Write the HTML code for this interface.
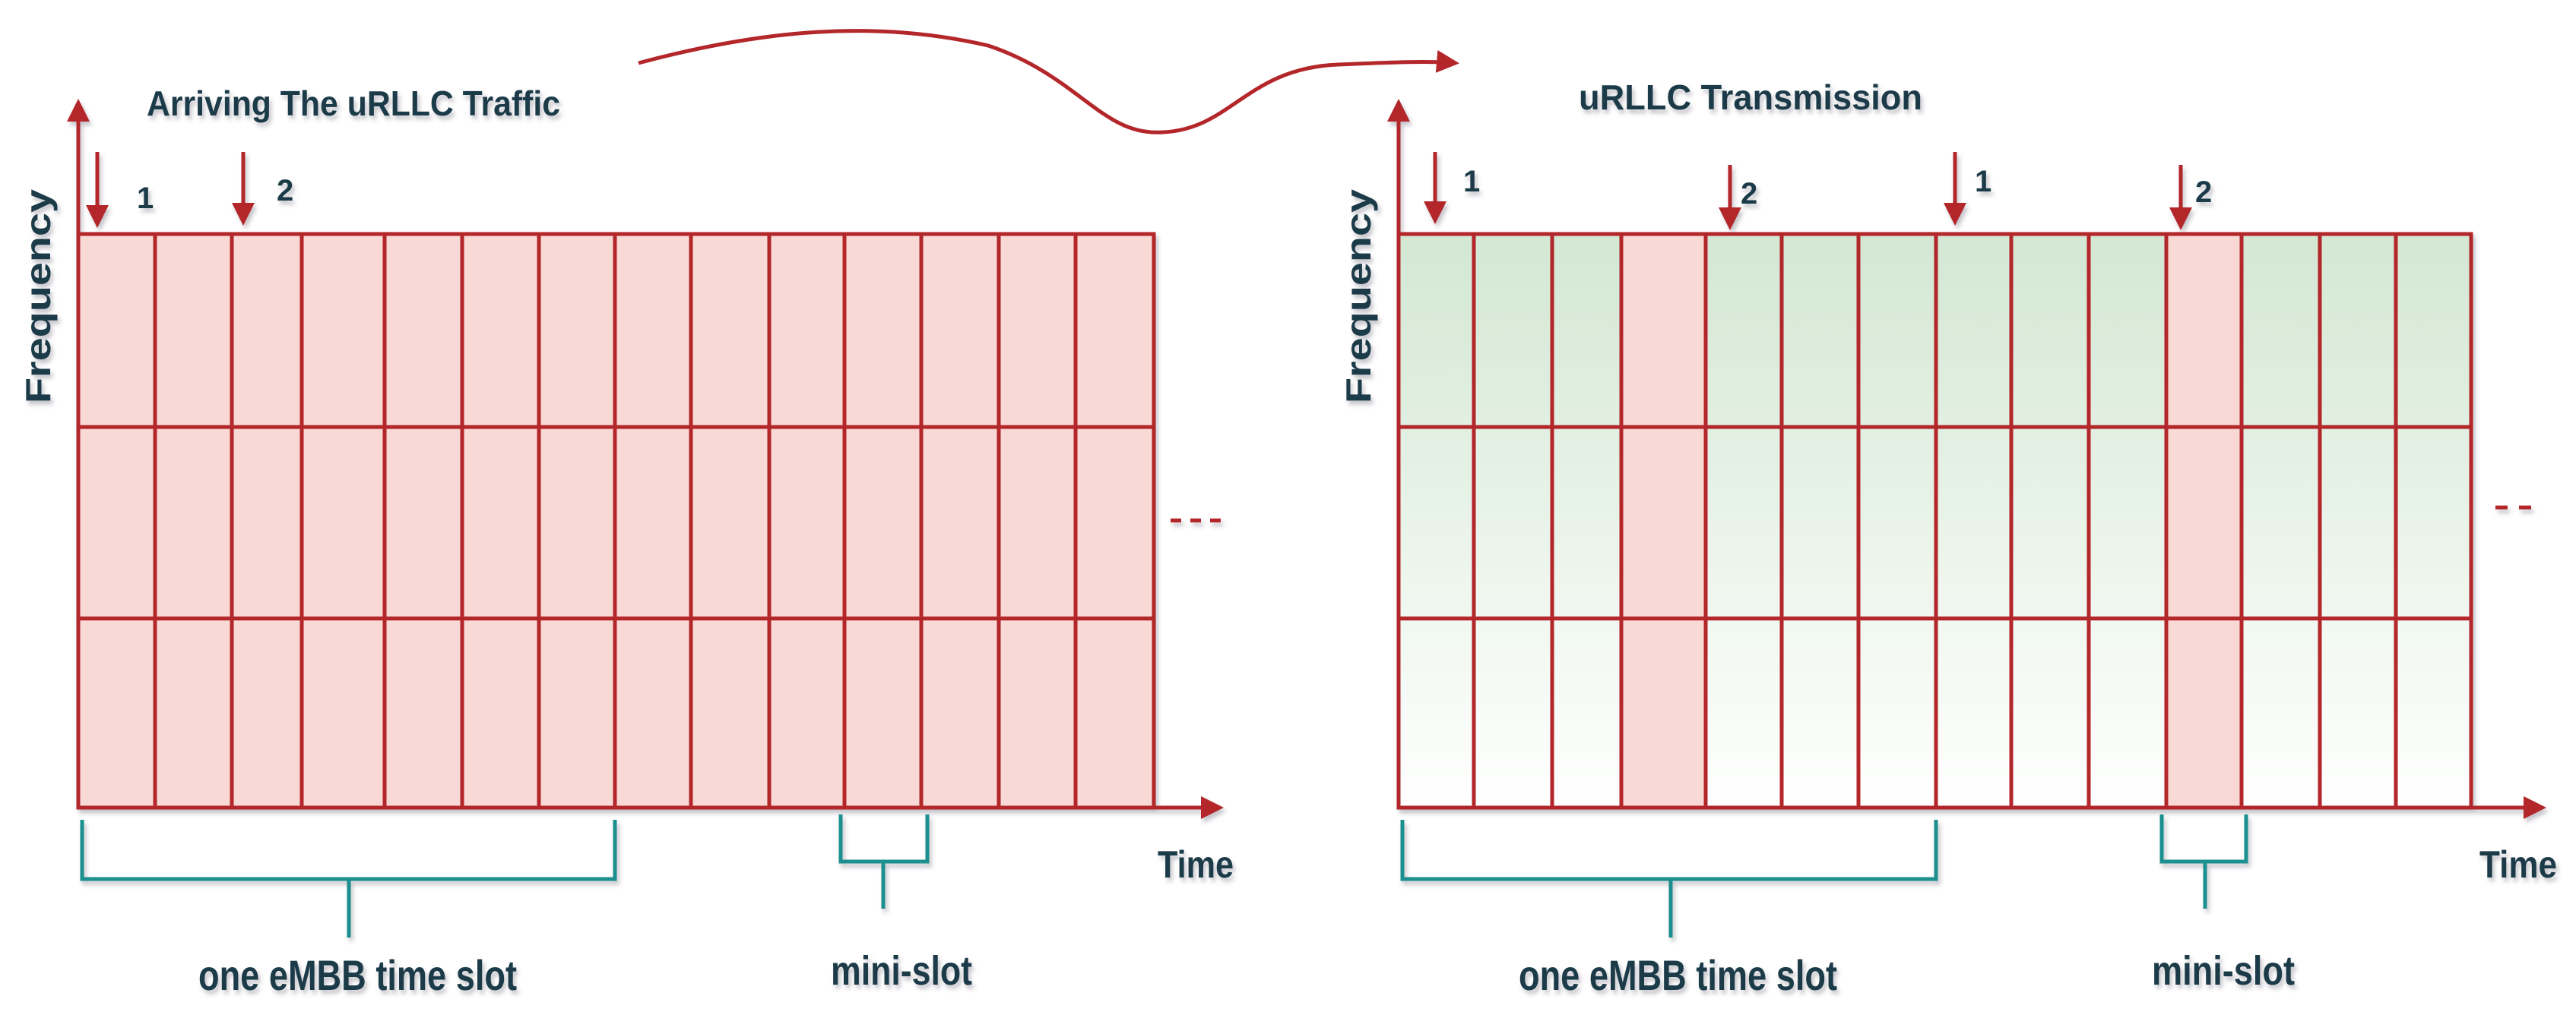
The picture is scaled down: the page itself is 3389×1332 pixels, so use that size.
<!DOCTYPE html>
<html><head><meta charset="utf-8"><style>
html,body{margin:0;padding:0;background:#fff}
svg{display:block}
text{font-family:"Liberation Sans Narrow","Liberation Sans",sans-serif;font-weight:bold;fill:#1d3a48}
</style></head><body>
<svg width="3389" height="1332" viewBox="0 0 3389 1332" xmlns="http://www.w3.org/2000/svg">
<defs>
<linearGradient id="g" x1="0" y1="0" x2="0" y2="1">
<stop offset="0" stop-color="#d3e7d3"/><stop offset="1" stop-color="#ffffff"/>
</linearGradient>
<filter id="sh" x="-5%" y="-20%" width="110%" height="150%"><feDropShadow dx="3" dy="5" stdDeviation="3" flood-color="#556" flood-opacity="0.35"/></filter>
<marker id="ah" markerWidth="6" markerHeight="6" refX="5" refY="3" orient="auto" markerUnits="strokeWidth"><path d="M0,0 L6,3 L0,6 Z" fill="#b3262a"/></marker>
</defs>

<!-- curve -->
<path d="M840,83 C1000,40 1150,25 1300,60 C1420,100 1450,180 1530,174 C1620,170 1640,90 1760,85 C1830,82 1880,80 1915,83" fill="none" stroke="#b3262a" stroke-width="5" marker-end="url(#ah)"/>

<!-- LEFT -->
<g filter="url(#sh)">
<rect x="103" y="308" width="1415" height="755" fill="#f9d9d5"/>
<g stroke="#b3262a" stroke-width="5" fill="none">
<rect x="103" y="308" width="1415" height="755"/>
<line x1="103" y1="562" x2="1518" y2="562"/>
<line x1="103" y1="814" x2="1518" y2="814"/>
<path d="M204,308V1063M305,308V1063M397,308V1063M506,308V1063M608,308V1063M709,308V1063M809,308V1063M909,308V1063M1012,308V1063M1111,308V1063M1212,308V1063M1314,308V1063M1415,308V1063"/>
</g>
<line x1="103" y1="1063" x2="103" y2="135" stroke="#b3262a" stroke-width="5" marker-end="url(#ah)"/>
<line x1="103" y1="1063" x2="1605" y2="1063" stroke="#b3262a" stroke-width="5" marker-end="url(#ah)"/>
<line x1="128" y1="200" x2="128" y2="295" stroke="#b3262a" stroke-width="5" marker-end="url(#ah)"/>
<line x1="320" y1="200" x2="320" y2="292" stroke="#b3262a" stroke-width="5" marker-end="url(#ah)"/>
<path d="M1540,685h14M1566,685h14M1592,685h14" stroke="#b3262a" stroke-width="5"/>
<g stroke="#1a8f8f" stroke-width="5" fill="none">
<path d="M108,1079V1157H809V1079M459,1157V1234"/>
<path d="M1106,1072V1134H1220V1072M1162,1134V1196"/>
</g>
</g>
<g filter="url(#sh)">
<text x="193" y="152" font-size="46" textLength="544" lengthAdjust="spacingAndGlyphs">Arriving The uRLLC Traffic</text>
<text x="180" y="274" font-size="40">1</text>
<text x="364" y="264" font-size="40">2</text>
<text transform="translate(66,390) rotate(-90)" text-anchor="middle" font-size="46" style="font-family:'Liberation Sans',sans-serif" textLength="282" lengthAdjust="spacingAndGlyphs">Frequency</text>
<text x="1523" y="1155" font-size="50" textLength="100" lengthAdjust="spacingAndGlyphs">Time</text>
<text x="261" y="1303" font-size="56" textLength="419" lengthAdjust="spacingAndGlyphs">one eMBB time slot</text>
<text x="1093" y="1296" font-size="54" textLength="186" lengthAdjust="spacingAndGlyphs">mini-slot</text>
</g>

<!-- RIGHT -->
<g filter="url(#sh)">
<rect x="1840" y="308" width="1411" height="755" fill="url(#g)"/>
<rect x="2133" y="308" width="111" height="755" fill="#f9d9d5"/>
<rect x="2850" y="308" width="99" height="755" fill="#f9d9d5"/>
<g stroke="#b3262a" stroke-width="5" fill="none">
<rect x="1840" y="308" width="1411" height="755"/>
<line x1="1840" y1="562" x2="3251" y2="562"/>
<line x1="1840" y1="814" x2="3251" y2="814"/>
<path d="M1939,308V1063M2042,308V1063M2133,308V1063M2244,308V1063M2344,308V1063M2445,308V1063M2547,308V1063M2646,308V1063M2748,308V1063M2850,308V1063M2949,308V1063M3052,308V1063M3152,308V1063"/>
</g>
<line x1="1840" y1="1063" x2="1840" y2="135" stroke="#b3262a" stroke-width="5" marker-end="url(#ah)"/>
<line x1="1840" y1="1063" x2="3345" y2="1063" stroke="#b3262a" stroke-width="5" marker-end="url(#ah)"/>
<line x1="1888" y1="200" x2="1888" y2="290" stroke="#b3262a" stroke-width="5" marker-end="url(#ah)"/>
<line x1="2276" y1="217" x2="2276" y2="298" stroke="#b3262a" stroke-width="5" marker-end="url(#ah)"/>
<line x1="2572" y1="200" x2="2572" y2="292" stroke="#b3262a" stroke-width="5" marker-end="url(#ah)"/>
<line x1="2869" y1="217" x2="2869" y2="298" stroke="#b3262a" stroke-width="5" marker-end="url(#ah)"/>
<path d="M3283,668h16M3314,668h16" stroke="#b3262a" stroke-width="5"/>
<g stroke="#1a8f8f" stroke-width="5" fill="none">
<path d="M1845,1079V1157H2547V1079M2198,1157V1234"/>
<path d="M2844,1072V1134H2955V1072M2901,1134V1196"/>
</g>
</g>
<g filter="url(#sh)">
<text x="2077" y="144" font-size="46" textLength="452" lengthAdjust="spacingAndGlyphs">uRLLC Transmission</text>
<text x="1925" y="252" font-size="40">1</text>
<text x="2290" y="268" font-size="40">2</text>
<text x="2598" y="252" font-size="40">1</text>
<text x="2888" y="266" font-size="40">2</text>
<text transform="translate(1803,390) rotate(-90)" text-anchor="middle" font-size="46" style="font-family:'Liberation Sans',sans-serif" textLength="282" lengthAdjust="spacingAndGlyphs">Frequency</text>
<text x="3262" y="1155" font-size="50" textLength="102" lengthAdjust="spacingAndGlyphs">Time</text>
<text x="1998" y="1303" font-size="56" textLength="419" lengthAdjust="spacingAndGlyphs">one eMBB time slot</text>
<text x="2831" y="1296" font-size="54" textLength="188" lengthAdjust="spacingAndGlyphs">mini-slot</text>
</g>
</svg>
</body></html>
